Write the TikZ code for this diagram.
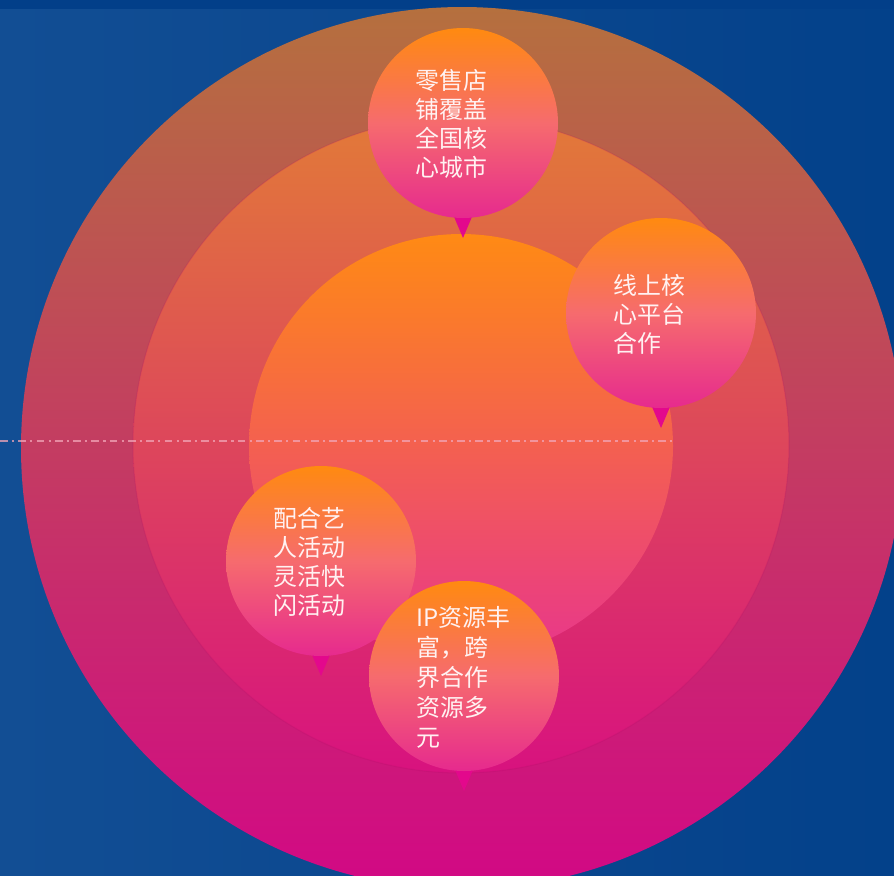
\documentclass[tikz,border=0pt]{standalone}
\usepackage{fontspec}
\newfontfamily\cjk{Noto Sans CJK SC}
\definecolor{bgL}{HTML}{124E94}
\definecolor{bgR}{HTML}{03418A}
\definecolor{bgTop}{HTML}{023F89}
\definecolor{oTop}{HTML}{B5703E}
\definecolor{oMid}{HTML}{C23C64}
\definecolor{oBot}{HTML}{D20885}
\definecolor{mTop}{HTML}{E27A38}
\definecolor{mMid}{HTML}{E05A68}
\definecolor{mBot}{HTML}{D8127F}
\definecolor{iTop}{HTML}{FF8A14}
\definecolor{iMid}{HTML}{F76C6C}
\definecolor{iBot}{HTML}{E8368C}
\definecolor{bTop}{HTML}{FF8A10}
\definecolor{bMid}{HTML}{F66B6E}
\definecolor{bBot}{HTML}{E62A8E}
\definecolor{tip}{HTML}{E3088C}
\definecolor{dashc}{HTML}{F2A6B8}
\definecolor{txt}{HTML}{FFF2F2}
\begin{document}
\begin{tikzpicture}[x=0.01cm,y=-0.01cm,
  bubble/.style={top color=bTop,bottom color=bBot,middle color=bMid,draw=none},
  pointer/.style={fill=tip,draw=none},
  label/.style={font=\cjk\fontsize{6.8pt}{8.25pt}\selectfont,text=txt,align=left,anchor=west,inner sep=0pt},
  ring/.style={draw=none}]
\useasboundingbox (0,0) rectangle (894,875);
% background
\shade[left color=bgL,right color=bgR] (0,0) rectangle (894,875);
\fill[bgTop] (0,0) rectangle (894,9);
% concentric circles
\begin{scope}
\clip (0,0) rectangle (894,875);
\shade[ring,top color=oTop,middle color=oMid,bottom color=oBot] (462,448) circle[radius=441];
\end{scope}
\shade[ring,top color=mTop,middle color=mMid,bottom color=mBot] (461,445) circle[radius=328];
\draw[mBot!80!black,opacity=0.2,line width=0.3pt] (461,445) circle[radius=328];
\shade[ring,top color=iTop,middle color=iMid,bottom color=iBot] (461,446) circle[radius=212];
% dash-dot line
\coordinate (dl) at (0,441);
\coordinate (dr) at (672,441);
\draw[dashc,opacity=0.75,line width=0.3pt,dash pattern=on 2.2pt off 1.2pt on 0.6pt off 1.2pt] (dl) -- (dr);
% bubble 1 (top)
\fill[pointer] (449,205) -- (477,205) -- (463,238) -- cycle;
\shade[bubble] (463,123) circle[radius=95];
\node[label] (t1) at (415,123.5) {零售店\\铺覆盖\\全国核\\心城市};
% bubble 2 (right)
\fill[pointer] (647,395) -- (675,395) -- (661,428) -- cycle;
\shade[bubble] (661,313) circle[radius=95];
\node[label] (t2) at (613,314) {线上核\\心平台\\合作};
% bubble 3 (left)
\fill[pointer] (307,643) -- (335,643) -- (321,676) -- cycle;
\shade[bubble] (321,561) circle[radius=95];
\node[label] (t3) at (273,561.5) {配合艺\\人活动\\灵活快\\闪活动};
% bubble 4 (bottom)
\fill[pointer] (450,758) -- (478,758) -- (464,791) -- cycle;
\shade[bubble] (464,676) circle[radius=95];
\node[label,font=\cjk\fontsize{6.8pt}{8.5pt}\selectfont] (t4) at (416,677.5) {IP资源丰\\富，跨\\界合作\\资源多\\元};
\end{tikzpicture}
\end{document}
